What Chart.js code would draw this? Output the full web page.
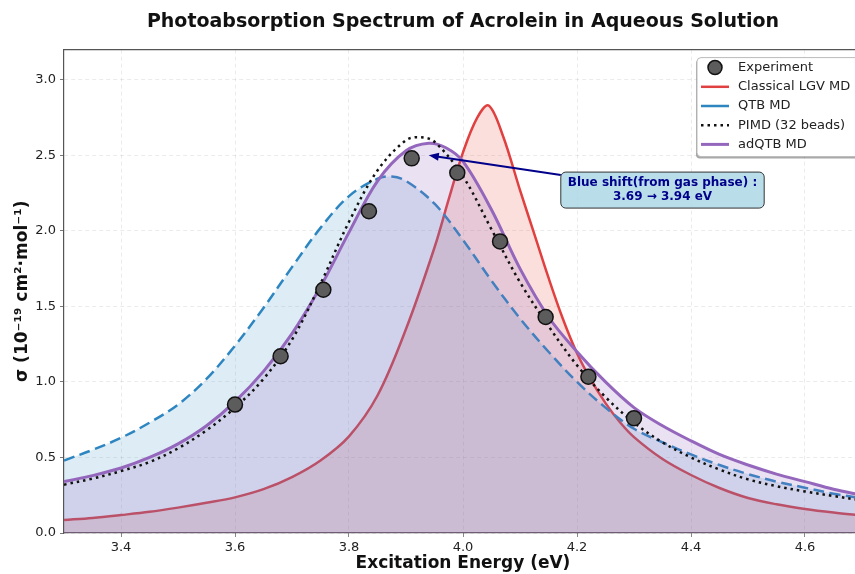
<!DOCTYPE html>
<html>
<head>
<meta charset="utf-8">
<script src="https://cdn.jsdelivr.net/npm/chart.js@4.4.0/dist/chart.umd.min.js"></script>
<style>
html, body { margin: 0; padding: 0; overflow: hidden; background: #fff; }
canvas { display: block; }
</style>
</head>
<body>
<canvas id="spectrumChart" width="880" height="574"></canvas>
<script>
// measured points
const expEnergy = [3.60, 3.68, 3.755, 3.835, 3.91, 3.99, 4.065, 4.145, 4.22, 4.30];
const expSigma = [0.85, 1.17, 1.61, 2.13, 2.48, 2.385, 1.93, 1.43, 1.035, 0.76];

// classical LGV MD
const lgvEnergy = [3.30, 3.35, 3.40, 3.45, 3.50, 3.55, 3.60, 3.65, 3.70, 3.75, 3.80, 3.85, 3.90, 3.95, 3.975, 4.00,
  4.025, 4.045, 4.07, 4.10, 4.125, 4.15, 4.175, 4.20, 4.225, 4.25, 4.275, 4.30, 4.35, 4.40, 4.45, 4.50, 4.55, 4.60, 4.65, 4.70];
const lgvSigma = [0.086, 0.10, 0.119, 0.14, 0.168, 0.20, 0.236, 0.29, 0.37, 0.48, 0.64, 0.91, 1.35, 1.89, 2.21, 2.52,
  2.75, 2.83, 2.63, 2.27, 1.98, 1.69, 1.42, 1.19, 1.01, 0.86, 0.735, 0.635, 0.49, 0.384, 0.298, 0.232, 0.19, 0.159, 0.135, 0.115];

// QTB MD
const qtbEnergy = [3.30, 3.35, 3.40, 3.45, 3.50, 3.55, 3.60, 3.65, 3.70, 3.75, 3.80, 3.85, 3.875, 3.90, 3.95,
  4.00, 4.05, 4.10, 4.15, 4.20, 4.25, 4.30, 4.35, 4.40, 4.45, 4.50, 4.55, 4.60, 4.65, 4.70];
const qtbSigma = [0.48, 0.55, 0.63, 0.73, 0.85, 1.02, 1.24, 1.49, 1.76, 2.02, 2.23, 2.345, 2.36, 2.33, 2.18,
  1.94, 1.67, 1.42, 1.20, 1.00, 0.83, 0.69, 0.60, 0.52, 0.45, 0.39, 0.34, 0.30, 0.26, 0.23];

// PIMD (32 beads)
const pimdEnergy = [3.30, 3.35, 3.40, 3.45, 3.50, 3.55, 3.60, 3.65, 3.70, 3.75, 3.80, 3.85, 3.90, 3.925, 3.95,
  4.00, 4.05, 4.10, 4.15, 4.20, 4.25, 4.30, 4.35, 4.40, 4.45, 4.50, 4.55, 4.60, 4.65, 4.70];
const pimdSigma = [0.32, 0.36, 0.41, 0.47, 0.56, 0.68, 0.83, 1.02, 1.28, 1.65, 2.06, 2.40, 2.60, 2.62, 2.59,
  2.36, 2.01, 1.66, 1.37, 1.11, 0.90, 0.73, 0.60, 0.50, 0.42, 0.355, 0.31, 0.275, 0.245, 0.215];

// adQTB MD
const adqtbEnergy = [3.30, 3.35, 3.40, 3.45, 3.50, 3.55, 3.60, 3.65, 3.70, 3.75, 3.80, 3.85, 3.90, 3.94, 3.97,
  4.00, 4.05, 4.10, 4.15, 4.20, 4.25, 4.30, 4.35, 4.40, 4.45, 4.50, 4.55, 4.60, 4.65, 4.70];
const adqtbSigma = [0.34, 0.38, 0.43, 0.50, 0.59, 0.71, 0.87, 1.07, 1.32, 1.63, 1.99, 2.33, 2.53, 2.58, 2.55,
  2.46, 2.14, 1.75, 1.43, 1.20, 1.00, 0.83, 0.71, 0.61, 0.52, 0.45, 0.39, 0.34, 0.29, 0.25];

const xTicks = [3.4, 3.6, 3.8, 4.0, 4.2, 4.4, 4.6];
const yTicks = [0.0, 0.5, 1.0, 1.5, 2.0, 2.5, 3.0];

// annotation: arrow target and text position (data units)
const noteTarget = [3.94, 2.50];
const noteAt = [4.35, 2.27];
const noteLines = ['Blue shift(from gas phase) :', '3.69 \u2192 3.94 eV'];

const RED = '#E0403F';
const BLUE = '#2E86C1';
const PURPLE = '#9467BD';
const FONT = '"DejaVu Sans", sans-serif';

function toPoints(xs, ys) {
  return xs.map((x, i) => ({ x: x, y: ys[i] }));
}

const frameLine = {
  id: 'frameLine',
  afterDraw(chart) {
    const { ctx, chartArea } = chart;
    ctx.save();
    ctx.strokeStyle = '#555';
    ctx.lineWidth = 1.2;
    ctx.beginPath();
    ctx.moveTo(chartArea.left, chartArea.top);
    ctx.lineTo(chartArea.right, chartArea.top);
    ctx.lineTo(chartArea.right, chartArea.bottom);
    ctx.stroke();
    ctx.restore();
  }
};

function roundRect(ctx, x, y, w, h, r) {
  ctx.beginPath();
  ctx.moveTo(x + r, y);
  ctx.lineTo(x + w - r, y);
  ctx.arcTo(x + w, y, x + w, y + r, r);
  ctx.lineTo(x + w, y + h - r);
  ctx.arcTo(x + w, y + h, x + w - r, y + h, r);
  ctx.lineTo(x + r, y + h);
  ctx.arcTo(x, y + h, x, y + h - r, r);
  ctx.lineTo(x, y + r);
  ctx.arcTo(x, y, x + r, y, r);
  ctx.closePath();
}

const noteBox = {
  id: 'noteBox',
  afterDatasetsDraw(chart) {
    const { ctx, scales } = chart;
    const tx = scales.x.getPixelForValue(noteTarget[0]);
    const ty = scales.y.getPixelForValue(noteTarget[1]);
    const cx = scales.x.getPixelForValue(noteAt[0]);
    const cy = scales.y.getPixelForValue(noteAt[1]);
    ctx.save();
    ctx.font = 'bold 12px ' + FONT;
    const tw = Math.max(...noteLines.map(t => ctx.measureText(t).width));
    const w = tw + 14, h = 36;
    const dx = tx - cx, dy = ty - cy;
    const t = Math.min((w / 2) / Math.abs(dx), (h / 2) / Math.abs(dy));
    const sx = cx + dx * t, sy = cy + dy * t;
    const ang = Math.atan2(ty - sy, tx - sx);
    ctx.strokeStyle = '#00008B';
    ctx.fillStyle = '#00008B';
    ctx.lineWidth = 2;
    ctx.beginPath();
    ctx.moveTo(sx, sy);
    ctx.lineTo(tx - 8 * Math.cos(ang), ty - 8 * Math.sin(ang));
    ctx.stroke();
    ctx.beginPath();
    ctx.moveTo(tx, ty);
    ctx.lineTo(tx - 10 * Math.cos(ang) + 4 * Math.sin(ang), ty - 10 * Math.sin(ang) - 4 * Math.cos(ang));
    ctx.lineTo(tx - 10 * Math.cos(ang) - 4 * Math.sin(ang), ty - 10 * Math.sin(ang) + 4 * Math.cos(ang));
    ctx.closePath();
    ctx.fill();
    roundRect(ctx, cx - w / 2, cy - h / 2, w, h, 5);
    ctx.fillStyle = 'rgba(173,216,230,0.85)';
    ctx.fill();
    ctx.strokeStyle = '#333';
    ctx.lineWidth = 1;
    ctx.stroke();
    ctx.fillStyle = '#00008B';
    ctx.textAlign = 'center';
    ctx.textBaseline = 'middle';
    ctx.fillText(noteLines[0], cx, cy - 7);
    ctx.fillText(noteLines[1], cx, cy + 7);
    ctx.restore();
  }
};

const cornerLegend = {
  id: 'cornerLegend',
  afterDraw(chart) {
    const { ctx, chartArea } = chart;
    const left = chartArea.right - 165, top = chartArea.top + 8;
    const w = 175, h = 99, rowH = 19.2;
    ctx.save();
    ctx.fillStyle = 'rgba(0,0,0,0.35)';
    roundRect(ctx, left - 1, top + 2, w, h, 4);
    ctx.fill();
    roundRect(ctx, left, top, w, h, 4);
    ctx.fillStyle = '#fff';
    ctx.fill();
    ctx.strokeStyle = '#bbb';
    ctx.lineWidth = 1;
    ctx.stroke();
    ctx.font = '13px ' + FONT;
    ctx.textBaseline = 'middle';
    chart.data.datasets.forEach((ds, i) => {
      const y = top + 10 + i * rowH;
      if (ds.showLine === false) {
        ctx.beginPath();
        ctx.arc(left + 18, y, 7, 0, Math.PI * 2);
        ctx.fillStyle = ds.pointBackgroundColor;
        ctx.fill();
        ctx.lineWidth = 1.5;
        ctx.strokeStyle = ds.pointBorderColor;
        ctx.stroke();
      } else {
        ctx.beginPath();
        ctx.setLineDash(ds.legendDash || []);
        ctx.lineWidth = ds.borderWidth;
        ctx.strokeStyle = ds.borderColor;
        ctx.moveTo(left + 4, y);
        ctx.lineTo(left + 32, y);
        ctx.stroke();
        ctx.setLineDash([]);
      }
      ctx.fillStyle = '#222';
      ctx.fillText(ds.label, left + 41, y);
    });
    ctx.restore();
  }
};

const ctx = document.getElementById('spectrumChart').getContext('2d');
const spectrumChart = new Chart(ctx, {
  type: 'line',
  data: {
    datasets: [
      {
        label: 'Experiment',
        data: toPoints(expEnergy, expSigma),
        showLine: false,
        pointRadius: 7.5,
        pointBackgroundColor: '#5c5c5c',
        pointBorderColor: '#111',
        pointBorderWidth: 1.5,
        order: 0
      },
      {
        label: 'Classical LGV MD',
        data: toPoints(lgvEnergy, lgvSigma),
        borderColor: RED,
        borderWidth: 2.5,
        backgroundColor: 'rgba(231,76,60,0.18)',
        fill: 'origin',
        pointRadius: 0,
        tension: 0.35,
        order: 4
      },
      {
        label: 'QTB MD',
        data: toPoints(qtbEnergy, qtbSigma),
        borderColor: BLUE,
        borderWidth: 2.5,
        borderDash: [11, 5.5],
        backgroundColor: 'rgba(46,134,193,0.16)',
        fill: 'origin',
        pointRadius: 0,
        tension: 0.35,
        order: 3
      },
      {
        label: 'PIMD (32 beads)',
        data: toPoints(pimdEnergy, pimdSigma),
        borderColor: '#111',
        borderWidth: 2.5,
        borderDash: [2.5, 4],
        legendDash: [2.5, 4],
        fill: false,
        pointRadius: 0,
        tension: 0.35,
        order: 1
      },
      {
        label: 'adQTB MD',
        data: toPoints(adqtbEnergy, adqtbSigma),
        borderColor: PURPLE,
        borderWidth: 3,
        backgroundColor: 'rgba(148,103,189,0.2)',
        fill: 'origin',
        pointRadius: 0,
        tension: 0.35,
        order: 2
      }
    ]
  },
  options: {
    responsive: false,
    animation: false,
    layout: { padding: { left: 0, right: 18, top: 0, bottom: 0 } },
    plugins: {
      legend: { display: false },
      tooltip: { enabled: false },
      title: {
        display: true,
        text: 'Photoabsorption Spectrum of Acrolein in Aqueous Solution',
        fullSize: false,
        color: '#111',
        font: { family: FONT, size: 19, weight: 'bold' },
        padding: { top: 10.5, bottom: 16.3 }
      }
    },
    scales: {
      x: {
        type: 'linear',
        min: 3.3,
        max: 4.7,
        afterBuildTicks: s => { s.ticks = xTicks.map(v => ({ value: v })); },
        afterFit: s => { s.height = 41; },
        ticks: {
          callback: v => v.toFixed(1),
          color: '#222',
          font: { family: FONT, size: 13 },
          padding: 3,
          maxRotation: 0,
          autoSkip: false
        },
        grid: { color: 'rgba(0,0,0,0.1)', lineWidth: 0.8, tickColor: '#555', tickLength: 4, tickBorderDash: [1, 0] },
        border: { color: '#555', width: 1.2, dash: [4, 3] },
        title: {
          display: true,
          text: 'Excitation Energy (eV)',
          color: '#111',
          font: { family: FONT, size: 17, weight: 'bold' },
          padding: { top: 0, bottom: 0 }
        }
      },
      y: {
        min: 0,
        max: 3.2,
        afterBuildTicks: s => { s.ticks = yTicks.map(v => ({ value: v })); },
        afterFit: s => { s.width = 64; },
        ticks: {
          callback: v => v.toFixed(1),
          color: '#222',
          font: { family: FONT, size: 13 },
          padding: 4
        },
        grid: { color: 'rgba(0,0,0,0.1)', lineWidth: 0.8, tickColor: '#555', tickLength: 4, tickBorderDash: [1, 0] },
        border: { color: '#555', width: 1.2, dash: [4, 3] },
        title: {
          display: true,
          text: '\u03c3 (10\u207b\u00b9\u2079 cm\u00b2\u00b7mol\u207b\u00b9)',
          color: '#111',
          font: { family: FONT, size: 17, weight: 'bold' },
          padding: { top: 12, bottom: 0 }
        }
      }
    }
  },
  plugins: [frameLine, noteBox, cornerLegend]
});
</script>
</body>
</html>
